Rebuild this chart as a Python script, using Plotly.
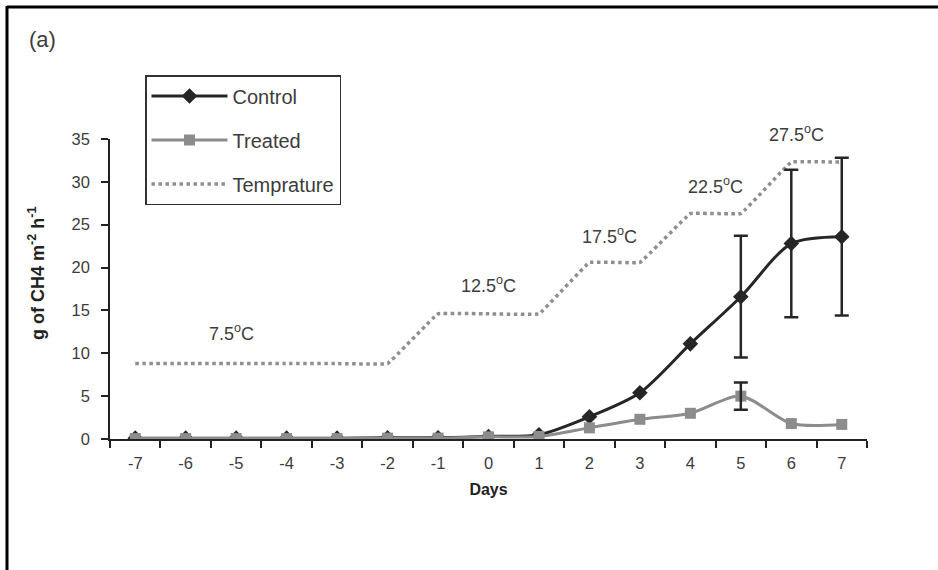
import plotly.graph_objects as go

days = [-7, -6, -5, -4, -3, -2, -1, 0, 1, 2, 3, 4, 5, 6, 7]
control = [0.1, 0.1, 0.1, 0.1, 0.1, 0.15, 0.15, 0.3, 0.5, 2.6, 5.4, 11.1, 16.6, 22.8, 23.6]
treated = [0.05, 0.05, 0.05, 0.05, 0.05, 0.1, 0.1, 0.25, 0.3, 1.3, 2.3, 3.0, 5.0, 1.8, 1.7]
temperature = [8.8, 8.8, 8.8, 8.8, 8.8, 8.8, 14.6, 14.6, 14.6, 20.6, 20.6, 26.3, 26.3, 32.3, 32.3]

ctrl_err_days = [5, 6, 7]
ctrl_err_vals = [16.6, 22.8, 23.6]
ctrl_err = [7.1, 8.6, 9.2]
trt_err_days = [5]
trt_err_vals = [5.0]
trt_err = [1.6]

temp_labels = ["7.5<sup>o</sup>C", "12.5<sup>o</sup>C", "17.5<sup>o</sup>C", "22.5<sup>o</sup>C", "27.5<sup>o</sup>C"]
temp_label_x = [-5.1, 0.0, 2.4, 4.5, 6.1]
temp_label_y = [12.4, 18.0, 23.8, 29.6, 35.6]

FONT = "Liberation Sans, Arial, sans-serif"
TXT = "#3c3c3c"
Y_MAX = 35

fig = go.Figure()

fig.add_trace(go.Scatter(
    x=days, y=control, name="Control", mode="lines+markers",
    line=dict(color="#262626", width=3, shape="spline", smoothing=0.8),
    marker=dict(symbol="diamond", size=12, color="#262626"),
    legendgroup="a",
))
fig.add_trace(go.Scatter(
    x=days, y=treated, name="Treated", mode="lines+markers",
    line=dict(color="#8c8c8c", width=3, shape="spline", smoothing=0.8),
    marker=dict(symbol="square", size=11, color="#8c8c8c"),
    legendgroup="b",
))
fig.add_trace(go.Scatter(
    x=days, y=temperature, name="Temprature", mode="lines",
    line=dict(color="#8f8f8f", width=3.5, dash="dot", shape="spline", smoothing=0.15),
    legendgroup="c",
))
fig.add_trace(go.Scatter(
    x=ctrl_err_days, y=ctrl_err_vals, mode="markers", showlegend=False,
    marker=dict(size=0.1, color="rgba(0,0,0,0)"),
    error_y=dict(type="data", array=ctrl_err, color="#262626", thickness=2.5, width=7),
    hoverinfo="skip",
))
fig.add_trace(go.Scatter(
    x=trt_err_days, y=trt_err_vals, mode="markers", showlegend=False,
    marker=dict(size=0.1, color="rgba(0,0,0,0)"),
    error_y=dict(type="data", array=trt_err, color="#262626", thickness=2.5, width=7),
    hoverinfo="skip",
))

for t, x, y in zip(temp_labels, temp_label_x, temp_label_y):
    fig.add_annotation(x=x, y=y / Y_MAX, text=t, showarrow=False, xref="x", yref="paper",
                       xanchor="center", yanchor="middle",
                       font=dict(family=FONT, size=18, color=TXT))

fig.add_annotation(x=(42 - 110) / 757, y=(439 - 40) / 300, xref="paper", yref="paper",
                   xanchor="center", yanchor="middle",
                   text="(a)", showarrow=False, font=dict(family=FONT, size=22, color=TXT))

# y-axis title
fig.add_annotation(x=(36 - 110) / 757, y=(439 - 274) / 300, xref="paper", yref="paper",
                   xanchor="center", yanchor="middle", textangle=-90,
                   text="<b>g of CH4 m<sup>-2</sup> h<sup>-1</sup></b>", showarrow=False,
                   font=dict(family=FONT, size=18, color="#222222"))

# frame lines (top and left)
fig.add_shape(type="line", xref="paper", yref="paper",
              x0=(7 - 110) / 757, x1=(940 - 110) / 757, y0=(439 - 7) / 300, y1=(439 - 7) / 300,
              line=dict(color="black", width=3))
fig.add_shape(type="line", xref="paper", yref="paper",
              x0=(7 - 110) / 757, x1=(7 - 110) / 757, y0=(439 - 6) / 300, y1=(439 - 575) / 300,
              line=dict(color="black", width=3))

fig.update_layout(
    width=938, height=570,
    margin=dict(l=110, r=71, t=139, b=131),
    paper_bgcolor="white", plot_bgcolor="white",
    font=dict(family=FONT, color=TXT, size=16),
    showlegend=True,
    legend=dict(
        x=(145 - 110) / 757, y=(439 - 75) / 300, xanchor="left", yanchor="top",
        bgcolor="white", bordercolor="#333333", borderwidth=1.5,
        font=dict(family=FONT, size=20, color=TXT),
        tracegroupgap=15, itemwidth=76,
    ),
    xaxis=dict(
        range=[-7.5, 7.5], tickmode="array", tickvals=days, ticktext=[str(d) for d in days],
        ticks="", showline=True, linecolor="#222222", linewidth=1.5,
        showgrid=False, zeroline=False, ticklabelstandoff=8,
        tickfont=dict(family=FONT, size=16.5, color=TXT),
        minor=dict(ticks="outside", tick0=-7.5, dtick=1, ticklen=7, tickcolor="#222222", tickwidth=1.5, showgrid=False),
        title=dict(text="<b>Days</b>", font=dict(family=FONT, size=16, color="#222222"), standoff=13),
    ),
    yaxis=dict(
        range=[0, Y_MAX], tickmode="linear", tick0=0, dtick=5,
        ticks="outside", ticklen=7, tickcolor="#222222", tickwidth=1.5,
        showline=True, linecolor="#222222", linewidth=1.5,
        showgrid=False, zeroline=False, ticklabelstandoff=8,
        tickfont=dict(family=FONT, size=16.5, color=TXT),
    ),
)

fig.write_html("out.html")
